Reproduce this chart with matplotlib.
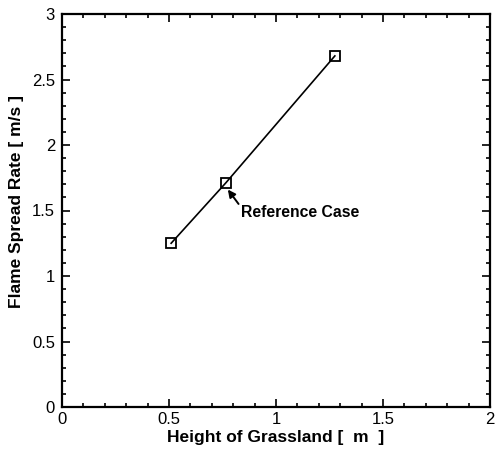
import matplotlib
matplotlib.use("Agg")
import matplotlib.pyplot as plt
from matplotlib.ticker import MultipleLocator

heights = [0.51, 0.765, 1.275]
spread_rates = [1.25, 1.71, 2.68]
xticks = [0, 0.5, 1, 1.5, 2]
yticks = [0, 0.5, 1, 1.5, 2, 2.5, 3]
xticklabels = ["0", "0.5", "1", "1.5", "2"]
yticklabels = ["0", "0.5", "1", "1.5", "2", "2.5", "3"]

plt.rcParams['font.family'] = ['Liberation Sans', 'DejaVu Sans']

fig = plt.figure(figsize=(4.95, 4.5), dpi=100)
ax = fig.add_axes([62/495, 43/450, 428/495, 393/450])

ax.plot(heights, spread_rates, color='black', lw=1.2, marker='s', ms=7.5,
        mfc='none', mec='black', mew=1.3)

ax.set_xlim(0, 2)
ax.set_ylim(0, 3)
ax.set_xticks(xticks)
ax.set_xticklabels(xticklabels)
ax.set_yticks(yticks)
ax.set_yticklabels(yticklabels)
ax.xaxis.set_minor_locator(MultipleLocator(0.1))
ax.yaxis.set_minor_locator(MultipleLocator(0.1))
ax.tick_params(which='both', direction='in', top=True, right=True, labelsize=12, width=1.2)
ax.tick_params(axis='y', which='major', pad=5)
ax.tick_params(which='major', length=6)
ax.tick_params(which='minor', length=3)
for s in ax.spines.values():
    s.set_linewidth(1.6)

ax.set_xlabel("Height of Grassland [  m  ]", fontsize=12.5, fontweight='bold', labelpad=2)
ax.set_ylabel("Flame Spread Rate [ m/s ]", fontsize=12.5, fontweight='bold', labelpad=6)
ax.yaxis.set_label_coords(-0.088, 0.522)

ax.text(0.835, 1.485, "Reference Case", fontsize=11.3, fontweight='bold', va='center', ha='left')
ax.annotate("", xy=(heights[1] + 0.01, spread_rates[1] - 0.05),
            xytext=(heights[1] + 0.06, spread_rates[1] - 0.16),
            arrowprops=dict(arrowstyle='-|>', color='black', lw=1.4,
                            shrinkA=0, shrinkB=0, mutation_scale=11))

fig.savefig("out.png", dpi=100)
